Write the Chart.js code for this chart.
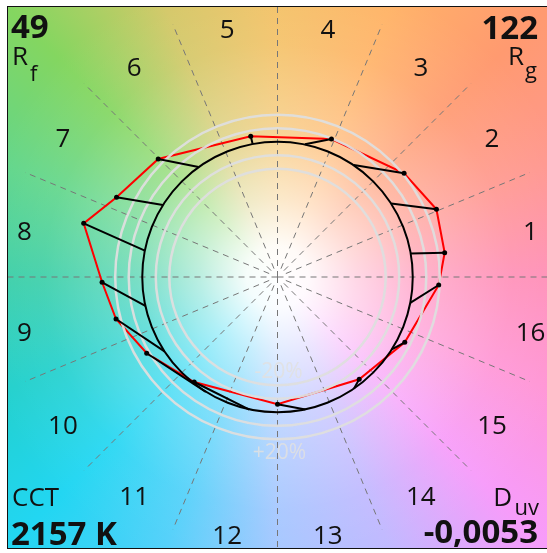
<!DOCTYPE html>
<html>
<head>
<meta charset="utf-8">
<script src="https://cdn.jsdelivr.net/npm/chart.js@4.4.1/dist/chart.umd.min.js"></script>
<style>
html, body { margin: 0; padding: 0; background: #fff; overflow: hidden; }
#wrap { position: absolute; left: 0; top: 0; width: 552px; height: 553px; }
</style>
</head>
<body>
<div id="wrap"><canvas id="cvg" width="552" height="553"></canvas></div>
<script>
// Hue bins and their labels
const binLabels = ['1', '2', '3', '4', '5', '6', '7', '8', '9', '10', '11', '12', '13', '14', '15', '16'];

// Test source chroma/hue points (normalised a', b' - reference circle radius = 1)
const testX = [1.236, 1.175, 0.936, 0.399, -0.198, -0.882, -1.190, -1.433, -1.297, -1.194, -0.967, -0.616, 0.000, 0.604, 0.941, 1.192];
const testY = [0.179, 0.500, 0.765, 1.018, 1.038, 0.871, 0.588, 0.396, -0.039, -0.310, -0.563, -0.775, -0.939, -0.755, -0.482, -0.059];

// Average reference hue angle of each bin (degrees), points sit on the unit circle
const refHue = [10.0, 32.8, 55.7, 78.3, 100.6, 125.7, 147.9, 168.8, 192.3, 213.3, 238.0, 258.0, 281.9, 304.4, 327.7, 349.0];

// Gray guide circles (relative chroma)
const guideRings = [0.8, 0.9, 1.1, 1.2];

// Summary values
const rf = '49';
const rg = '122';
const cct = '2157 K';
const duv = '-0,0053';

// Background hue colours (math angle in degrees, colour)
const hueStops = [
    [0, '#ff90b8'], [22.5, '#ff9890'], [45, '#ff9a70'], [67.5, '#ffb468'],
    [90, '#f4c268'], [112.5, '#d4c868'], [135, '#84d660'], [157.5, '#62d68a'],
    [180, '#3ccfa8'], [202.5, '#22d0cc'], [225, '#22d6f2'], [247.5, '#52d0fa'],
    [270, '#a4c6ff'], [292.5, '#c0b8ff'], [315, '#f79cfa'], [337.5, '#ff96d6']
];

const toRad = d => d * Math.PI / 180;

const testPoints = testX.map((x, i) => ({ x: x, y: testY[i] }));
const polygon = testPoints.concat([testPoints[0]]);

const arrows = [];
refHue.forEach((h, i) => {
    arrows.push({ x: Math.cos(toRad(h)), y: Math.sin(toRad(h)) });
    arrows.push(testPoints[i]);
    arrows.push({ x: null, y: null });
});

// Background, dashed bin lines and the text around the plot
const cvgBackground = {
    id: 'cvgBackground',
    beforeDatasetsDraw(chart) {
        const { ctx, chartArea: a, scales: { x, y } } = chart;
        const cx = x.getPixelForValue(0);
        const cy = y.getPixelForValue(0);
        const unit = x.getPixelForValue(1) - cx;

        ctx.save();
        ctx.beginPath();
        ctx.rect(a.left, a.top, a.width, a.height);
        ctx.clip();

        const g = ctx.createConicGradient(0, cx, cy);
        const stops = hueStops.map(([ang, c]) => [((360 - ang) % 360) / 360, c])
            .sort((p, q) => p[0] - q[0]);
        stops.forEach(([t, c]) => g.addColorStop(t, c));
        g.addColorStop(1, stops[0][1]);
        ctx.fillStyle = g;
        ctx.fillRect(a.left, a.top, a.width, a.height);

        const w = ctx.createRadialGradient(cx, cy, 0, cx, cy, 2.3 * unit);
        w.addColorStop(0, 'rgba(255,255,255,1)');
        w.addColorStop(0.1, 'rgba(255,255,255,0.95)');
        w.addColorStop(0.25, 'rgba(255,255,255,0.65)');
        w.addColorStop(0.45, 'rgba(255,255,255,0.32)');
        w.addColorStop(0.75, 'rgba(255,255,255,0.08)');
        w.addColorStop(1, 'rgba(255,255,255,0)');
        ctx.fillStyle = w;
        ctx.fillRect(a.left, a.top, a.width, a.height);

        // dashed bin boundaries
        ctx.strokeStyle = '#777777';
        ctx.lineWidth = 1;
        ctx.setLineDash([6, 5]);
        for (let k = 0; k < 16; k++) {
            const ang = toRad(k * 22.5);
            const r0 = (k % 4 === 0) ? 0 : 9;
            ctx.beginPath();
            ctx.moveTo(cx + r0 * Math.cos(ang), cy - r0 * Math.sin(ang));
            ctx.lineTo(cx + 2.02 * unit * Math.cos(ang), cy - 2.02 * unit * Math.sin(ang));
            ctx.stroke();
        }
        ctx.setLineDash([]);

        // bin numbers
        ctx.fillStyle = '#111';
        ctx.font = '26px "Open Sans"';
        ctx.textAlign = 'center';
        ctx.textBaseline = 'alphabetic';
        binLabels.forEach((lab, i) => {
            const ang = toRad((i + 0.5) * 22.5);
            const r = 258;
            ctx.fillText(lab, cx + r * Math.cos(ang), cy - r * Math.sin(ang) + 4.3 + 9.5);
        });

        // corner values
        ctx.textAlign = 'left';
        ctx.font = 'bold 33px "Open Sans"';
        ctx.fillText(rf, 11, 38);
        ctx.fillText(cct, 11, 545);
        ctx.font = '26px "Open Sans"';
        ctx.fillText('R', 12, 65);
        ctx.fillText('CCT', 12, 505.5);
        ctx.font = '22px "Open Sans"';
        ctx.fillText('f', 30, 81);

        ctx.textAlign = 'right';
        ctx.font = 'bold 33px "Open Sans"';
        ctx.fillText(rg, 538, 39);
        ctx.fillText(duv, 538, 543);
        ctx.font = '22px "Open Sans"';
        ctx.fillText('g', 537, 78);
        ctx.fillText('uv', 539, 515);
        ctx.font = '26px "Open Sans"';
        ctx.fillText('R', 524, 65);
        ctx.fillText('D', 512, 505.5);

        ctx.restore();

        // frame
        ctx.save();
        ctx.strokeStyle = '#111';
        ctx.lineWidth = 1;
        ctx.strokeRect(Math.round(a.left) + 0.5, Math.round(a.top) + 0.5, a.width, a.height);
        ctx.restore();
    },
    afterDatasetDraw(chart, args) {
        if (args.index !== 0) return;
        const { ctx, scales: { x, y } } = chart;
        const cx = x.getPixelForValue(0);
        const cy = y.getPixelForValue(0);
        const unit = x.getPixelForValue(1) - cx;

        ctx.save();
        ctx.strokeStyle = 'rgba(222,222,222,0.95)';
        ctx.lineWidth = 2.5;
        guideRings.forEach(r => {
            ctx.beginPath();
            ctx.arc(cx, cy, r * unit, 0, Math.PI * 2);
            ctx.stroke();
        });

        ctx.fillStyle = 'rgba(225,225,225,0.85)';
        ctx.font = '21px "Open Sans"';
        ctx.textAlign = 'center';
        ctx.textBaseline = 'middle';
        ctx.fillText('-20%', cx + 1, cy + 0.8 * unit - 13);
        ctx.fillText('+20%', cx + 2, cy + 1.2 * unit + 14);

        ctx.strokeStyle = '#000';
        ctx.lineWidth = 2;
        ctx.beginPath();
        ctx.arc(cx, cy, unit, 0, Math.PI * 2);
        ctx.stroke();
        ctx.restore();
    }
};

new Chart(document.getElementById('cvg'), {
    type: 'scatter',
    data: {
        datasets: [
            {
                label: 'Test',
                data: polygon,
                showLine: true,
                borderColor: '#ff0000',
                borderWidth: 2,
                pointRadius: 0,
                order: 3
            },
            {
                label: 'Shift',
                data: arrows,
                showLine: true,
                spanGaps: false,
                borderColor: '#000000',
                borderWidth: 2,
                pointRadius: 0,
                order: 2
            },
            {
                label: 'Points',
                data: testPoints,
                showLine: false,
                pointRadius: 2.5,
                pointBackgroundColor: '#000000',
                pointBorderWidth: 0,
                order: 1
            }
        ]
    },
    options: {
        responsive: false,
        animation: false,
        layout: { padding: { left: 7, top: 6, right: 3, bottom: 5 } },
        scales: {
            x: { type: 'linear', min: -2, max: 2, display: false },
            y: { type: 'linear', min: -2, max: 2, display: false }
        },
        plugins: {
            legend: { display: false },
            tooltip: { enabled: false }
        }
    },
    plugins: [cvgBackground]
});
</script>
</body>
</html>
